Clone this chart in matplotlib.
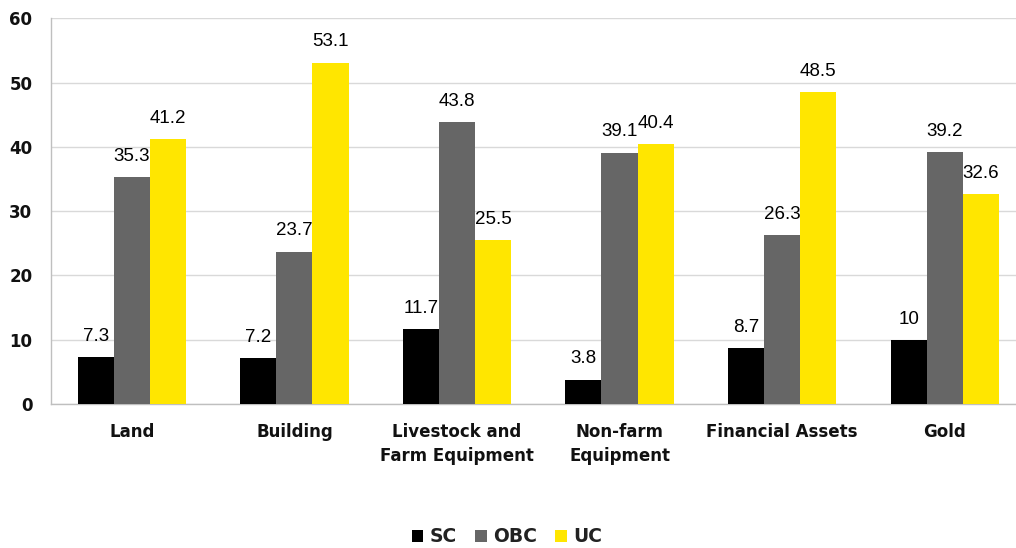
import matplotlib
matplotlib.use("Agg")
import matplotlib.pyplot as plt
import numpy as np

categories = ["Land", "Building", "Livestock and\nFarm Equipment", "Non-farm\nEquipment", "Financial Assets", "Gold"]
series_names = ["SC", "OBC", "UC"]
sc = [7.3, 7.2, 11.7, 3.8, 8.7, 10]
obc = [35.3, 23.7, 43.8, 39.1, 26.3, 39.2]
uc = [41.2, 53.1, 25.5, 40.4, 48.5, 32.6]
value_labels = [["7.3", "7.2", "11.7", "3.8", "8.7", "10"],
                ["35.3", "23.7", "43.8", "39.1", "26.3", "39.2"],
                ["41.2", "53.1", "25.5", "40.4", "48.5", "32.6"]]
yticks = [0, 10, 20, 30, 40, 50, 60]

colors = ["#000000", "#666666", "#FFE600"]

fig = plt.figure(figsize=(10.16, 5.48), dpi=100)
W, H = 1016, 548
ax = fig.add_axes([50.5 / W, 1 - 404 / H, (1026 - 50.5) / W, (404 - 18.3) / H])

x = np.arange(len(categories))
bw = 0.222
for i, (vals, col) in enumerate(zip([sc, obc, uc], colors)):
    pos = x + (i - 1) * bw
    ax.bar(pos, vals, width=bw, color=col, label=series_names[i], zorder=3)
    for p, v, t in zip(pos, vals, value_labels[i]):
        ax.text(p, v + 1.9, t, ha="center", va="bottom", fontsize=13.5,
                family="Liberation Sans", color="#000000", zorder=4)

ax.set_xlim(-0.5, len(categories) - 0.5)
ax.set_ylim(0, 60)
ax.set_yticks(yticks)
ax.set_yticklabels([str(t) for t in yticks], fontsize=12, fontweight="bold", family="DejaVu Sans", color="#111111")
ax.set_xticks(x)
ax.set_xticklabels(categories, fontsize=12, fontweight="bold", family="DejaVu Sans", linespacing=1.38, va="top", color="#111111")
ax.tick_params(axis="both", length=0)
ax.tick_params(axis="y", pad=13)
ax.tick_params(axis="x", pad=14)
ax.grid(axis="y", color="#d9d9d9", linewidth=1, zorder=0)
for s in ["top", "right"]:
    ax.spines[s].set_visible(False)
ax.spines["left"].set_color("#bfbfbf")
ax.spines["bottom"].set_color("#bfbfbf")
ax.spines["left"].set_linewidth(1)
ax.spines["bottom"].set_linewidth(1)

leg = fig.legend(loc="center", bbox_to_anchor=(507 / W, 1 - 537 / H), ncol=3, frameon=False,
                 prop={"family": "DejaVu Sans", "weight": "bold", "size": 13.5},
                 handlelength=0.62, handleheight=0.62, handletextpad=0.35, columnspacing=0.95)
for t in leg.get_texts():
    t.set_color("#222222")

fig.savefig("out.png", dpi=100)
